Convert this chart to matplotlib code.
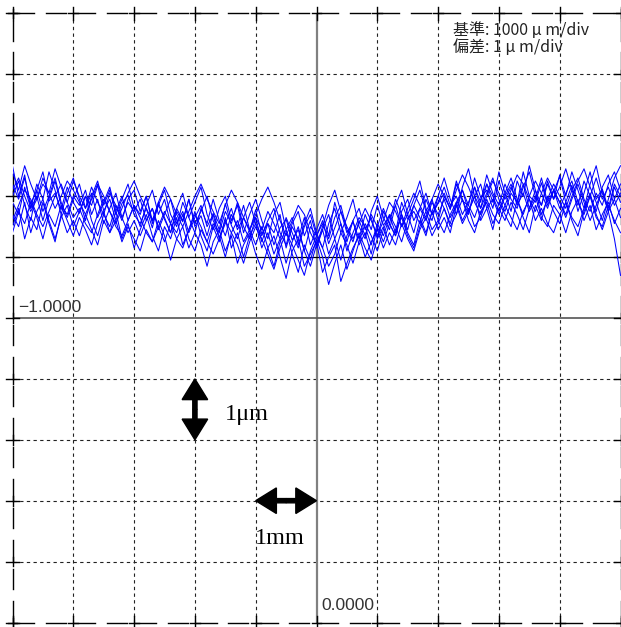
import numpy as np
import matplotlib
matplotlib.use("Agg")
import matplotlib.pyplot as plt

# profile traces, deviation in 0.01 um, sampled every 0.1 mm from -5 to +5 mm
trace_a = [120, 95, 130, 88, 110, 140, 92, 105, 78, 115, 90,
           72, 100, 85, 118, 76, 95, 60, 88, 102, 70,
           55, 80, 48, 90, 62, 40, 75, 58, 95, 50,
           68, 35, 72, 45, 88, 52, 30, 65, 42, 78,
           38, 55, 20, 48, 62, 28, 45, 10, 50, 35,
           60, 22, 48, 75, 40, 58, 30, 70, 45, 85,
           52, 68, 40, 90, 62, 75, 55, 95, 70, 88,
           105, 78, 120, 92, 85, 130, 98, 110, 80, 125,
           95, 115, 88, 140, 100, 90, 122, 85, 108, 132,
           90, 118, 75, 105, 140, 95, 112, 80, 120, 100]
trace_b = [60, 85, 110, 95, 70, 50, 75, 100, 120, 90, 65,
           80, 55, 40, 70, 95, 75, 50, 35, 60, 85,
           65, 40, 25, 50, 75, 55, 30, 15, 45, 70,
           50, 25, 5, 30, 60, 40, 20, -10, 25, 50,
           30, 5, -20, 15, 40, 20, -5, -30, 10, 35,
           15, -15, 5, 40, 20, -10, 25, 55, 35, 10,
           45, 70, 50, 25, 60, 85, 65, 40, 75, 100,
           80, 55, 90, 110, 85, 65, 95, 120, 100, 75,
           105, 130, 95, 70, 100, 125, 105, 80, 110, 90,
           65, 95, 120, 90, 60, 85, 110, 75, 30, -30]
trace_c = [140, 110, 150, 120, 95, 130, 105, 145, 115, 90, 125,
           100, 80, 115, 90, 70, 105, 85, 60, 95, 110,
           75, 100, 60, 85, 110, 70, 50, 90, 65, 40,
           80, 55, 95, 60, 35, 70, 50, 85, 45, 65,
           25, 55, 40, 70, 15, 50, 30, 65, 20, 45,
           70, 35, 90, 55, 25, 60, 80, 45, 65, 30,
           75, 55, 95, 70, 45, 85, 110, 75, 95, 60,
           100, 80, 125, 95, 70, 115, 90, 135, 105, 85,
           120, 95, 80, 115, 140, 100, 85, 125, 95, 115,
           145, 110, 85, 125, 100, 75, 115, 135, 95, 120]
trace_d = [40, 75, 55, 90, 65, 30, 70, 50, 85, 60, 35,
           65, 45, 20, 55, 75, 40, 60, 25, 50, 30,
           10, 45, 25, 60, 35, -5, 30, 50, 15, 40,
           20, -15, 25, 45, 10, 35, -10, 20, 40, 5,
           -20, 15, 35, 0, -35, 10, 30, -15, 5, 25,
           -25, 0, 20, -40, -10, 15, 35, 0, 25, 45,
           15, 40, 20, 55, 30, 10, 45, 65, 35, 55,
           80, 50, 70, 95, 60, 40, 75, 90, 55, 80,
           60, 90, 70, 45, 80, 100, 65, 50, 85, 70,
           40, 75, 95, 60, 85, 45, 70, 90, 55, 80]
trace_e = [90, 70, 115, 80, 100, 60, 95, 125, 85, 70, 100,
           85, 110, 70, 95, 55, 80, 105, 65, 90, 75,
           95, 60, 80, 45, 70, 95, 55, 75, 40, 65,
           85, 50, 70, 30, 55, 80, 45, 65, 90, 55,
           35, 60, 80, 40, 20, 55, 75, 35, 60, 15,
           45, 70, 30, 55, 10, 40, 65, 50, 20, 55,
           35, 65, 85, 50, 70, 40, 80, 60, 90, 70,
           95, 65, 85, 110, 75, 100, 120, 80, 95, 70,
           100, 120, 85, 105, 75, 95, 130, 90, 110, 80,
           105, 125, 90, 70, 100, 130, 95, 115, 85, 105]
trace_f = [110, 130, 100, 75, 95, 120, 105, 80, 100, 125, 110,
           90, 70, 95, 120, 100, 75, 55, 80, 105, 125,
           100, 80, 60, 90, 115, 95, 70, 50, 75, 100,
           120, 95, 75, 55, 85, 110, 90, 65, 45, 70,
           95, 115, 90, 60, 35, 60, 85, 70, 40, 20,
           50, 85, 110, 75, 50, 30, 55, 80, 60, 35,
           60, 90, 75, 50, 80, 105, 85, 65, 95, 120,
           100, 80, 110, 135, 115, 90, 70, 100, 125, 105,
           85, 110, 135, 120, 95, 75, 105, 130, 110, 90,
           70, 100, 125, 145, 115, 90, 60, 95, 130, 150]
trace_g = [70, 50, 90, 40, 75, 95, 60, 30, 65, 85, 50,
           75, 100, 60, 35, 70, 50, 85, 65, 40, 60,
           35, 60, 80, 50, 25, 55, 40, 70, 30, 10,
           45, 25, 55, 35, 0, 40, 60, 25, 45, 20,
           50, 15, -15, 25, 45, 5, -25, 20, -5, 30,
           0, -45, -10, 20, -20, 10, 40, 15, -5, 30,
           50, 20, 45, 65, 35, 15, 50, 75, 45, 60,
           40, 70, 90, 60, 80, 50, 65, 95, 70, 55,
           85, 65, 45, 75, 95, 60, 80, 55, 40, 70,
           90, 65, 50, 80, 105, 70, 45, 75, 95, 65]
trace_h = [150, 100, 135, 80, 120, 95, 140, 110, 70, 105, 130,
           95, 60, 100, 125, 85, 110, 70, 95, 120, 80,
           50, 85, 110, 70, 95, 55, 80, 105, 65, 90,
           115, 70, 45, 80, 100, 60, 85, 40, 70, 95,
           60, 30, 70, 90, 45, 65, 20, 55, 80, 40,
           15, 55, 80, 40, 65, 95, 50, 30, 75, 100,
           65, 45, 85, 110, 70, 95, 125, 80, 60, 100,
           130, 95, 70, 115, 145, 100, 80, 120, 90, 140,
           105, 75, 125, 100, 150, 110, 85, 120, 95, 135,
           100, 140, 110, 80, 120, 150, 105, 75, 115, 90]
trace_i = [50, 80, 30, 65, 45, 90, 55, 25, 70, 40, 60,
           35, 70, 45, 20, 60, 40, 75, 30, 55, 15,
           45, 70, 35, 10, 50, 30, 65, 20, 45, 75,
           35, 10, 50, 25, 65, 15, 40, 0, 35, 55,
           15, 40, 5, 30, -10, 25, 50, 10, -15, 20,
           45, 5, 30, -5, 35, 60, 20, 40, 5, 50,
           25, 55, 35, 70, 40, 20, 60, 35, 75, 45,
           65, 40, 85, 55, 75, 100, 60, 80, 45, 90,
           70, 50, 95, 65, 40, 85, 60, 100, 75, 55,
           90, 60, 35, 75, 100, 65, 50, 85, 60, 40]
trace_j = [100, 125, 85, 60, 110, 75, 100, 130, 90, 65, 95,
           120, 80, 105, 65, 90, 115, 75, 100, 60, 85,
           70, 100, 55, 85, 65, 40, 80, 60, 95, 55,
           75, 100, 60, 40, 75, 55, 90, 50, 30, 65,
           45, 75, 55, 30, 65, 40, 15, 50, 70, 35,
           55, 30, 65, 85, 45, 25, 60, 35, 70, 50,
           80, 55, 35, 75, 95, 60, 80, 105, 70, 90,
           115, 85, 100, 70, 90, 115, 80, 105, 130, 95,
           75, 105, 90, 120, 80, 110, 70, 95, 120, 100,
           80, 110, 130, 95, 75, 105, 85, 120, 140, 110]
traces = [trace_a, trace_b, trace_c, trace_d, trace_e,
          trace_f, trace_g, trace_h, trace_i, trace_j]

x_mm = np.arange(101) * 0.1 - 5.0
xlim = (-5, 5)
ylim = (-6, 4)

fig = plt.figure(figsize=(6.21, 6.27), dpi=100)
ax = fig.add_axes([12.5 / 621, 4.5 / 627, 608 / 621, 609 / 627])
ax.set_xlim(*xlim)
ax.set_ylim(*ylim)
ax.axis("off")

# inner dashed grid
for gx in range(xlim[0] + 1, xlim[1]):
    if gx != 0:
        ax.plot([gx, gx], ylim, color="#222222", lw=0.8, ls=(0, (3, 3)), zorder=1)
for gy in range(ylim[0] + 1, ylim[1]):
    if gy not in (0, -1):
        ax.plot(xlim, [gy, gy], color="#222222", lw=0.8, ls=(0, (3, 3)), zorder=1)

# reference lines
ax.plot([0, 0], ylim, color="#808080", lw=1.6, zorder=1)
ax.plot(xlim, [-1, -1], color="#555555", lw=1.2, zorder=1)
ax.plot(xlim, [0, 0], color="black", lw=0.9, zorder=3)

# outer frame: long dashes with crosses at each division
def frame_edge(horizontal, fixed, lo, hi):
    kw = dict(color="black", lw=1.0, zorder=2, clip_on=False)
    for k in range(lo, hi):
        for a, b in [(0.0, 0.36), (0.55, 0.88)]:
            if horizontal:
                ax.plot([k + a, k + b], [fixed, fixed], **kw)
            else:
                ax.plot([fixed, fixed], [k + a, k + b], **kw)
    for k in range(lo, hi + 1):
        if horizontal:
            ax.plot([k, k], [fixed - 0.1, fixed + 0.1], **kw)
            ax.plot([k - 0.08, k + 0.08], [fixed, fixed], **kw)
        else:
            ax.plot([fixed - 0.1, fixed + 0.1], [k, k], **kw)
            ax.plot([fixed, fixed], [k - 0.08, k + 0.08], **kw)

frame_edge(True, ylim[1], xlim[0], xlim[1])
frame_edge(True, ylim[0], xlim[0], xlim[1])
frame_edge(False, xlim[0], ylim[0], ylim[1])
frame_edge(False, xlim[1], ylim[0], ylim[1])

for tr in traces:
    ax.plot(x_mm, np.array(tr) / 100.0, color="#0000ff", lw=0.75, zorder=4)

# scale text
cjk = ["Noto Sans CJK JP", "DejaVu Sans"]
sans = ["Liberation Sans", "DejaVu Sans"]
ax.text(0.724, 0.972, "基準: 1000 μ m/div", transform=ax.transAxes, family=cjk,
        fontsize=11.5, color="#222222", va="center", ha="left")
ax.text(0.724, 0.944, "偏差: 1 μ m/div", transform=ax.transAxes, family=cjk,
        fontsize=11.5, color="#222222", va="center", ha="left")
ax.text(-4.9, -0.82, "−1.0000", family=sans, fontsize=12.5, color="#333333",
        va="center", ha="left")
ax.text(0.08, -5.72, "0.0000", family=sans, fontsize=12.5, color="#333333",
        va="center", ha="left")

# scale arrows
arrow_kw = dict(width=0.07, head_width=0.42, head_length=0.34,
                length_includes_head=True, color="black", zorder=5)
ax.arrow(-2, -2.5, 0, 0.5, **arrow_kw)
ax.arrow(-2, -2.5, 0, -0.5, **arrow_kw)
ax.arrow(-0.5, -4, -0.5, 0, **arrow_kw)
ax.arrow(-0.5, -4, 0.5, 0, **arrow_kw)
serif = ["Liberation Serif", "DejaVu Serif"]
ax.text(-1.5, -2.58, "1μm", family=serif, fontsize=17.5, va="center", ha="left")
ax.text(-0.6, -4.62, "1mm", family=serif, fontsize=17.5, va="center", ha="center")

fig.savefig("out.png", dpi=100)
